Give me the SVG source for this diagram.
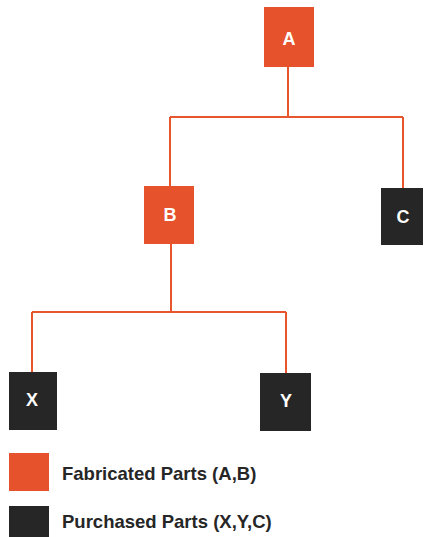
<svg xmlns="http://www.w3.org/2000/svg" width="425" height="537" viewBox="0 0 425 537">
<style>
.fab{fill:#E6522B}
.pur{fill:#262626}
.lbl{font-family:"Liberation Sans",Arial,sans-serif;font-weight:bold;font-size:18px;fill:#ffffff;text-anchor:middle;dominant-baseline:central}
.leg{font-family:"Liberation Sans",Arial,sans-serif;font-weight:bold;font-size:18.5px;fill:#262626}
.wire{fill:none;stroke:#E8562E;stroke-width:2}
</style>
<rect width="425" height="537" fill="#ffffff"/>
<g id="connectors">
<path class="wire" d="M288,67 V117 M170,117 H403 M170,117 V186 M403,117 V188"/>
<path class="wire" d="M171,244 V312 M32,312 H286 M32,312 V372 M286,312 V373"/>
</g>
<g id="node-A"><rect class="fab" x="264" y="7" width="50" height="60"/><text class="lbl" x="289" y="39">A</text></g>
<g id="node-B"><rect class="fab" x="144" y="186" width="50" height="58"/><text class="lbl" x="170" y="215">B</text></g>
<g id="node-C"><rect class="pur" x="381" y="188" width="42" height="57"/><text class="lbl" x="403" y="217">C</text></g>
<g id="node-X"><rect class="pur" x="9" y="372" width="48" height="58"/><text class="lbl" x="32" y="400">X</text></g>
<g id="node-Y"><rect class="pur" x="260" y="373" width="51" height="58"/><text class="lbl" x="286" y="401">Y</text></g>
<g id="legend">
<rect class="fab" x="9" y="453" width="40" height="38"/>
<text class="leg" x="62" y="480">Fabricated Parts (A,B)</text>
<rect class="pur" x="9" y="506" width="40" height="31"/>
<text class="leg" x="62" y="528">Purchased Parts (X,Y,C)</text>
</g>
</svg>
